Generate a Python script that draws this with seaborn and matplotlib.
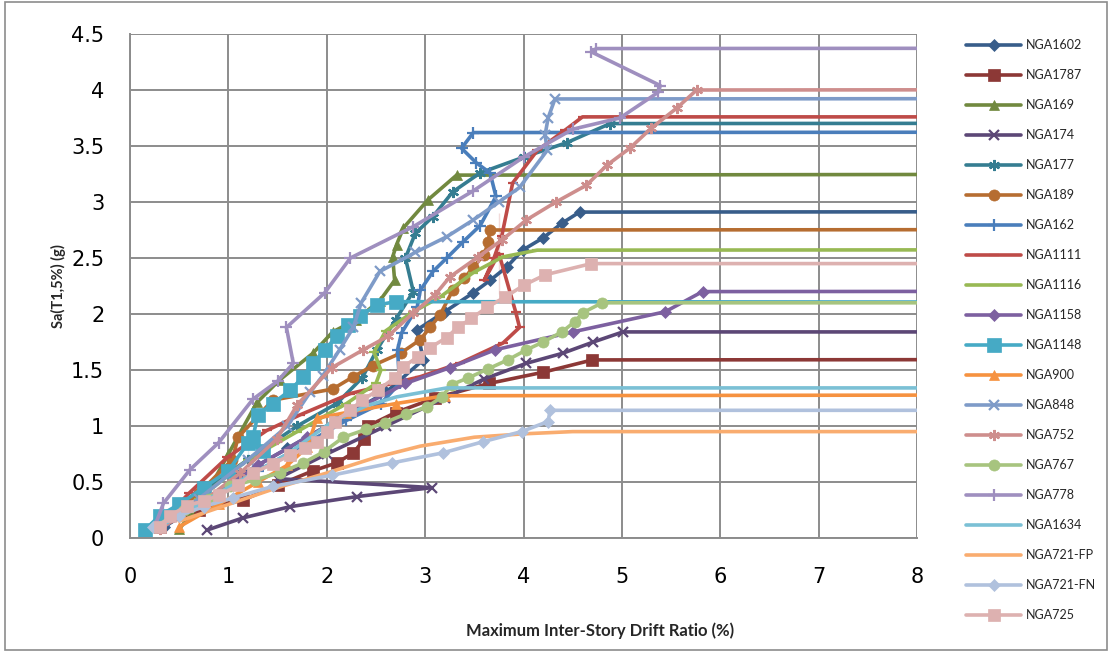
import matplotlib
matplotlib.use("Agg")
import matplotlib.pyplot as plt
import matplotlib.patches as mpatches
import seaborn as sns
import pandas as pd

# IDA curves: max inter-story drift ratio (%) vs Sa(T1,5%) (g)
# last point of each record is far right so the flat part runs off the axis
drift_1602 = [0.35, 0.7, 1.1, 1.6, 2.1, 2.6, 2.98, 2.92, 3.2, 3.49, 3.66, 3.83, 3.99, 4.2, 4.39, 4.57, 20]
sa_1602 = [0.1, 0.3, 0.55, 0.8, 1.05, 1.3, 1.59, 1.86, 2.02, 2.19, 2.30, 2.42, 2.57, 2.68, 2.81, 2.91, 2.92]

drift_1787 = [0.3, 0.7, 1.15, 1.5, 1.86, 2.1, 2.27, 2.38, 2.42, 2.7, 3.1, 3.65, 4.2, 4.7, 20]
sa_1787 = [0.1, 0.25, 0.34, 0.47, 0.6, 0.67, 0.76, 0.88, 1.0, 1.12, 1.25, 1.38, 1.48, 1.59, 1.6]

drift_169 = [0.5, 0.75, 1.0, 1.29, 1.52, 1.86, 2.06, 2.3, 2.54, 2.69, 2.67, 2.71, 2.78, 3.03, 3.32, 20]
sa_169 = [0.08, 0.35, 0.75, 1.21, 1.41, 1.65, 1.84, 1.95, 2.12, 2.3, 2.51, 2.62, 2.77, 3.02, 3.24, 3.26]

drift_174 = [0.78, 1.15, 1.63, 2.31, 3.07, 1.5, 2.0, 2.6, 3.2, 3.6, 4.03, 4.4, 4.71, 5.01, 20]
sa_174 = [0.07, 0.18, 0.28, 0.37, 0.45, 0.53, 0.75, 1.0, 1.25, 1.42, 1.56, 1.65, 1.75, 1.84, 1.84]

drift_177 = [0.25, 0.7, 1.2, 1.7, 2.1, 2.36, 2.51, 2.7, 2.88, 2.8, 2.9, 3.08, 3.28, 3.56, 4.0, 4.44, 4.88, 20]
sa_177 = [0.12, 0.4, 0.7, 1.0, 1.2, 1.43, 1.68, 1.95, 2.2, 2.5, 2.72, 2.87, 3.09, 3.26, 3.4, 3.53, 3.7, 3.71]

drift_189 = [0.3, 0.7, 1.04, 1.1, 1.45, 2.06, 2.27, 2.47, 2.75, 2.95, 3.05, 3.15, 3.28, 3.4, 3.49, 3.6, 3.64, 3.66, 20]
sa_189 = [0.12, 0.4, 0.7, 0.9, 1.23, 1.33, 1.44, 1.54, 1.65, 1.77, 1.88, 1.99, 2.21, 2.32, 2.42, 2.53, 2.64, 2.75, 2.76]

drift_162 = [0.35, 0.8, 1.3, 1.8, 2.2, 2.55, 2.74, 2.72, 2.76, 2.92, 2.95, 3.08, 3.22, 3.38, 3.56, 3.72, 3.66, 3.52, 3.37, 3.49, 20]
sa_162 = [0.12, 0.35, 0.6, 0.85, 1.05, 1.2, 1.38, 1.68, 1.83, 2.06, 2.21, 2.38, 2.5, 2.64, 2.79, 3.05, 3.26, 3.35, 3.48, 3.62, 3.63]

drift_1111 = [0.3, 0.6, 0.99, 1.39, 1.73, 2.24, 2.95, 3.35, 3.79, 3.96, 3.92, 3.75, 3.6, 3.7, 3.78, 3.75, 3.89, 4.14, 4.42, 4.6, 20]
sa_1111 = [0.12, 0.4, 0.72, 0.96, 1.1, 1.29, 1.44, 1.56, 1.74, 1.88, 2.02, 2.18, 2.3, 2.5, 2.7, 2.9, 3.17, 3.46, 3.64, 3.76, 3.76]

drift_1116 = [0.3, 0.7, 1.2, 1.7, 2.2, 2.5, 2.55, 2.48, 2.6, 2.88, 3.15, 3.49, 3.79, 4.14, 20]
sa_1116 = [0.12, 0.35, 0.7, 0.95, 1.2, 1.38, 1.5, 1.66, 1.85, 2.02, 2.15, 2.37, 2.51, 2.57, 2.58]

drift_1158 = [0.3, 0.8, 1.3, 1.8, 2.3, 2.8, 3.25, 3.71, 4.5, 5.44, 5.82, 20]
sa_1158 = [0.1, 0.35, 0.65, 0.9, 1.15, 1.38, 1.52, 1.68, 1.84, 2.02, 2.2, 2.21]

drift_1148 = [0.15, 0.3, 0.5, 0.75, 1.0, 1.2, 1.35, 1.25, 1.2, 1.3, 1.45, 1.63, 1.76, 1.86, 1.98, 2.1, 2.22, 2.34, 2.51, 2.7, 20]
sa_1148 = [0.07, 0.2, 0.3, 0.45, 0.6, 0.7, 0.78, 0.9, 1.0, 1.1, 1.2, 1.32, 1.44, 1.56, 1.68, 1.8, 1.9, 1.98, 2.08, 2.11, 2.1]

drift_900 = [0.5, 0.9, 1.3, 1.6, 1.8, 1.9, 2.2, 2.7, 3.2, 20]
sa_900 = [0.1, 0.3, 0.5, 0.65, 0.81, 1.07, 1.12, 1.2, 1.27, 1.29]

drift_848 = [0.3, 0.7, 1.2, 1.6, 1.83, 1.96, 2.13, 2.27, 2.35, 2.54, 2.9, 3.22, 3.49, 3.75, 3.96, 4.24, 4.22, 4.25, 4.32, 20]
sa_848 = [0.12, 0.35, 0.7, 1.0, 1.3, 1.45, 1.68, 1.88, 2.1, 2.38, 2.55, 2.69, 2.84, 3.0, 3.13, 3.46, 3.6, 3.75, 3.92, 3.93]

drift_752 = [0.3, 0.7, 1.12, 1.49, 1.7, 2.05, 2.37, 2.62, 2.88, 3.1, 3.25, 3.54, 3.78, 4.03, 4.33, 4.64, 4.85, 5.08, 5.3, 5.56, 5.76, 20]
sa_752 = [0.08, 0.3, 0.58, 0.88, 1.19, 1.52, 1.68, 1.8, 2.01, 2.17, 2.33, 2.51, 2.66, 2.84, 3.0, 3.15, 3.33, 3.48, 3.66, 3.84, 4.0, 4.01]

drift_767 = [0.25, 0.55, 0.8, 1.02, 1.27, 1.52, 1.76, 1.97, 2.17, 2.4, 2.59, 2.81, 3.02, 3.17, 3.27, 3.44, 3.64, 3.84, 4.03, 4.2, 4.39, 4.52, 4.6, 4.8, 20]
sa_767 = [0.1, 0.25, 0.35, 0.46, 0.52, 0.58, 0.67, 0.77, 0.9, 0.97, 1.03, 1.11, 1.17, 1.26, 1.37, 1.43, 1.51, 1.59, 1.68, 1.75, 1.84, 1.93, 2.01, 2.1, 2.1]

drift_778 = [0.25, 0.34, 0.61, 0.9, 1.25, 1.5, 1.66, 1.59, 1.98, 2.24, 2.88, 3.49, 4.0, 4.5, 4.98, 5.37, 5.39, 4.69, 4.74, 20]
sa_778 = [0.1, 0.31, 0.61, 0.85, 1.24, 1.4, 1.56, 1.88, 2.19, 2.5, 2.78, 3.1, 3.4, 3.65, 3.75, 3.98, 4.04, 4.34, 4.37, 4.38]

drift_1634 = [0.3, 0.7, 1.2, 1.6, 2.04, 2.4, 2.71, 3.22, 20]
sa_1634 = [0.1, 0.3, 0.55, 0.75, 1.03, 1.18, 1.26, 1.34, 1.34]

drift_721fp = [0.5, 1.0, 1.5, 2.0, 2.5, 2.95, 3.5, 4.0, 4.5, 20]
sa_721fp = [0.15, 0.3, 0.45, 0.58, 0.72, 0.82, 0.9, 0.93, 0.95, 0.95]

drift_721fn = [0.23, 0.5, 0.75, 1.05, 1.45, 2.05, 2.66, 3.18, 3.59, 3.98, 4.25, 4.27, 20]
sa_721fn = [0.1, 0.2, 0.28, 0.36, 0.46, 0.56, 0.67, 0.76, 0.86, 0.95, 1.04, 1.14, 1.14]

drift_725 = [0.3, 0.41, 0.58, 0.75, 0.9, 1.1, 1.25, 1.45, 1.63, 1.78, 1.9, 2.0, 2.08, 2.24, 2.36, 2.52, 2.69, 2.78, 2.93, 3.05, 3.22, 3.33, 3.47, 3.63, 3.81, 4.01, 4.22, 4.69, 20]
sa_725 = [0.1, 0.2, 0.29, 0.33, 0.38, 0.47, 0.58, 0.66, 0.74, 0.8, 0.86, 0.95, 1.04, 1.14, 1.23, 1.32, 1.43, 1.53, 1.62, 1.7, 1.79, 1.88, 1.96, 2.06, 2.15, 2.26, 2.35, 2.45, 2.45]

# legend order as in the original
records = [
    ("NGA1602", drift_1602, sa_1602, "#385D8A", "D", 6.5),
    ("NGA1787", drift_1787, sa_1787, "#8C3836", "s", 8),
    ("NGA169", drift_169, sa_169, "#71893F", "^", 7.5),
    ("NGA174", drift_174, sa_174, "#5C4776", "x", 7),
    ("NGA177", drift_177, sa_177, "#357D91", (6, 2, 0), 8),
    ("NGA189", drift_189, sa_189, "#B66D31", "o", 8),
    ("NGA162", drift_162, sa_162, "#4A7EBB", "+", 8),
    ("NGA1111", drift_1111, sa_1111, "#BE4B48", "_", 7),
    ("NGA1116", drift_1116, sa_1116, "#98B954", "_", 7),
    ("NGA1158", drift_1158, sa_1158, "#7D60A0", "D", 6.5),
    ("NGA1148", drift_1148, sa_1148, "#46AAC5", "s", 10),
    ("NGA900", drift_900, sa_900, "#F69240", "^", 7.5),
    ("NGA848", drift_848, sa_848, "#7E9BC8", "x", 7),
    ("NGA752", drift_752, sa_752, "#CE8E8D", (6, 2, 0), 8),
    ("NGA767", drift_767, sa_767, "#A7C47F", "o", 8),
    ("NGA778", drift_778, sa_778, "#9F8FBF", "+", 8),
    ("NGA1634", drift_1634, sa_1634, "#7BC0D5", "None", 0),
    ("NGA721-FP", drift_721fp, sa_721fp, "#F9AC6F", "None", 0),
    ("NGA721-FN", drift_721fn, sa_721fn, "#B0C1DD", "D", 6.5),
    ("NGA725", drift_725, sa_725, "#DDB1B0", "s", 9),
]

sns.set_theme(style="white")
plt.rcParams['font.family'] = ['DejaVu Sans']

fig = plt.figure(figsize=(11.09, 6.51), dpi=100)
ax = fig.add_axes([130 / 1109, 113 / 651, 787 / 1109, 504 / 651])

line_markers = {"x", "+", "_"}
for name, xs, ys, color, mk, ms in records:
    df = pd.DataFrame({"drift": xs, "sa": ys})
    mew = 1.6 if (mk in line_markers or isinstance(mk, tuple)) else 0.5
    sns.lineplot(data=df, x="drift", y="sa", sort=False, ax=ax, color=color,
                 lw=2.6, marker=mk, markersize=ms, markeredgecolor=color,
                 markeredgewidth=mew, label=name)

ax.set_xlim(0, 8)
ax.set_ylim(0, 4.5)
ax.set_xticks(range(0, 9))
ax.set_yticks([0, 0.5, 1, 1.5, 2, 2.5, 3, 3.5, 4, 4.5])
ax.set_yticklabels(["0", "0.5", "1", "1.5", "2", "2.5", "3", "3.5", "4", "4.5"])
ax.grid(True, color="#8c8c8c", lw=1.4)
ax.set_axisbelow(True)
ax.tick_params(axis="both", length=0, labelsize=15, colors="#000000")
ax.tick_params(axis="y", pad=18.5)
ax.tick_params(axis="x", pad=21)
for side in ["top", "right"]:
    ax.spines[side].set_visible(False)
for side in ["left", "bottom"]:
    ax.spines[side].set_color("#8c8c8c")
    ax.spines[side].set_linewidth(1.4)

ax.set_xlabel("Maximum Inter-Story Drift Ratio (%)", fontsize=12, fontweight="bold",
              family="Lato", va="center")
ax.xaxis.set_label_coords((600 - 130) / 787, (538 - 631) / 504)
ax.set_ylabel("Sa(T1,5%) (g)", fontsize=10.5, fontweight="bold", family="Lato", labelpad=4)

handles, labels = ax.get_legend_handles_labels()
ax.get_legend().remove()
fig.legend(handles, labels, loc="upper left", bbox_to_anchor=(966 / 1109, 1 - 39 / 651),
           frameon=False, prop={"family": "Lato", "size": 9}, handlelength=4.4,
           labelspacing=1.44, handletextpad=0.4, borderaxespad=0, borderpad=0)

# thin border round the whole chart, like the spreadsheet chart area
fig.patches.append(mpatches.Rectangle((5 / 1109, 1 / 651), 1102 / 1109, 648 / 651,
                                      transform=fig.transFigure, fill=False,
                                      edgecolor="#8c8c8c", lw=1.2))

plt.savefig("out.png", dpi=100)
